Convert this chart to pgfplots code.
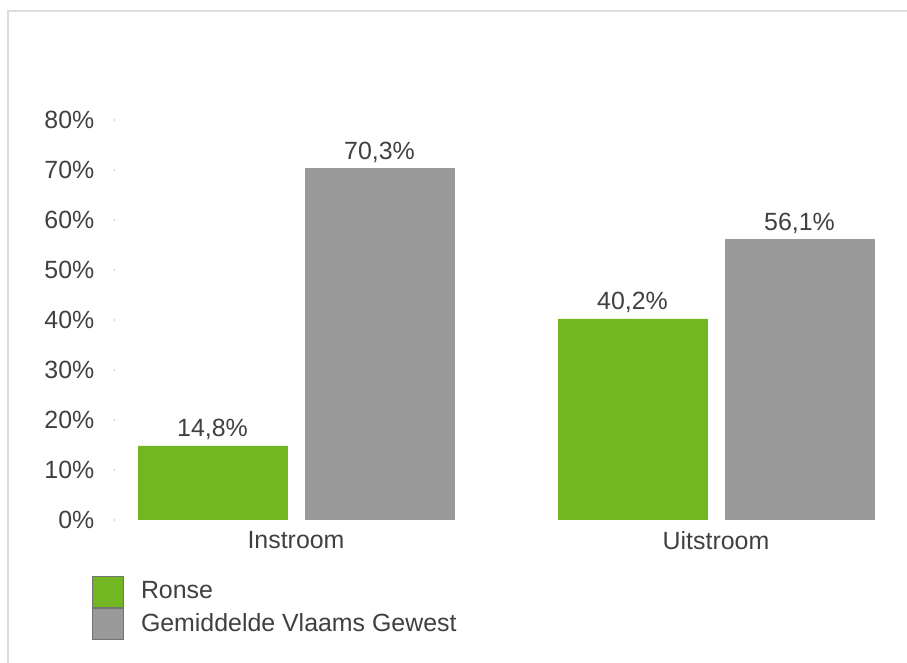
\documentclass[border=0pt]{standalone}
\usepackage{pgfplots}
\pgfplotsset{compat=1.18}
\usepackage{fontspec}
\setmainfont{Liberation Sans}
\definecolor{barGreen}{RGB}{114,182,34}
\definecolor{barGray}{RGB}{153,153,153}
\definecolor{txt}{RGB}{64,64,64}
\definecolor{frame}{RGB}{220,220,220}
\begin{document}
\fontsize{24.9}{30}\selectfont
\begin{tikzpicture}
\useasboundingbox (0,0) rectangle (907pt,663pt);
\draw[frame, line width=2pt] (8pt,0pt) -- (8pt,651.5pt) -- (907pt,651.5pt);
\begin{axis}[
  at={(115pt,143pt)}, anchor=south west,
  scale only axis, width=782pt, height=400pt,
  xmin=-0.430952, xmax=1.430952,
  ymin=0, ymax=80,
  ybar, bar width=149pt,
  axis line style={draw=none},
  xtick={0,1}, xticklabels={Instroom,Uitstroom},
  xtick style={draw=none},
  ytick={0,10,...,80},
  yticklabel={\pgfmathprintnumber{\tick}\%},
  ytick pos=left,
  ytick style={draw=gray!45, line width=1.5pt},
  major tick length=1.5pt,
  tick align=outside,
  /pgf/number format/assume math mode=true,
  yticklabel style={inner sep=0pt, anchor=east, xshift=-19pt, text=txt, font=\fontsize{24.9}{30}\selectfont},
  xticklabel style={inner sep=0pt, anchor=north, yshift=-10pt, text=txt, font=\fontsize{24.9}{30}\selectfont},
  nodes near coords={\pgfmathprintnumber[fixed,fixed zerofill,precision=1,use comma]{\pgfplotspointmeta}\%},
  nodes near coords style={anchor=base, inner sep=0pt, yshift=9pt, text=txt, font=\fontsize{24.9}{30}\selectfont},
  legend style={at={(-0.02941,-0.14)}, anchor=north west, draw=none, inner sep=0pt, row sep=0pt,
    nodes={inner sep=0pt, text=txt, font=\fontsize{24.9}{30}\selectfont},
    /tikz/every odd column/.style={column sep=17pt}},
  legend cell align=left,
  legend image code/.code={\draw[#1, draw=black!55, line width=0.8pt] (0pt,-15.5pt) rectangle (31pt,15.5pt);},
]
\addplot[fill=barGreen, draw=barGreen, bar shift=-83.5pt] coordinates {(0,14.8) (1,40.2)};
\addplot[fill=barGray, draw=barGray, bar shift=83.5pt] coordinates {(0,70.3) (1,56.1)};
\legend{Ronse, Gemiddelde Vlaams Gewest}
\end{axis}
\end{tikzpicture}
\end{document}
